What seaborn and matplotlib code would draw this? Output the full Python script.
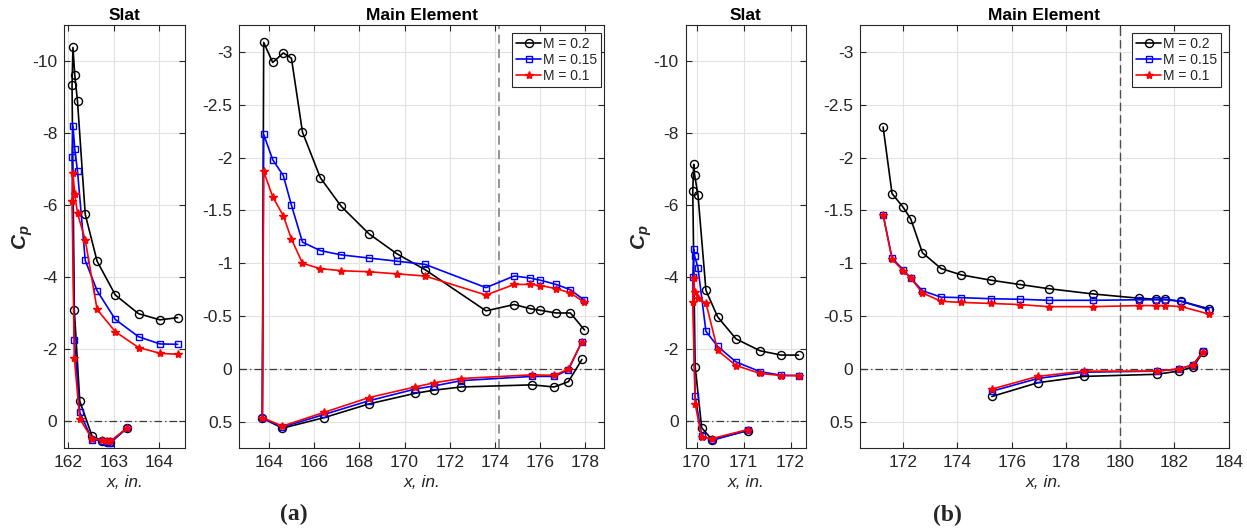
import matplotlib
matplotlib.use("Agg")
import matplotlib.pyplot as plt
from matplotlib.lines import Line2D
import seaborn as sns

# ---------------------------------------------------------------------------
# Surface pressure coefficient data (x in inches, Cp)
# Each slat / main-element-with-LE path runs lower TE -> leading edge -> upper TE
# ---------------------------------------------------------------------------
mach_labels = ["M = 0.2", "M = 0.15", "M = 0.1"]

# (a) slat
slat_a_x = [163.29, 162.92, 162.84, 162.73, 162.52, 162.25, 162.13, 162.08,
            162.10, 162.14, 162.20, 162.37, 162.63, 163.03, 163.54, 164.01, 164.40]
slat_a_cp_m20 = [0.18, 0.58, 0.57, 0.54, 0.41, -0.56, -3.09, -9.34,
                 -10.39, -9.62, -8.89, -5.75, -4.45, -3.51, -2.99, -2.82, -2.88]
slat_a_cp_m15 = [0.19, 0.60, 0.57, 0.54, 0.51, -0.25, -2.27, -7.34,
                 -8.21, -7.57, -6.95, -4.47, -3.63, -2.83, -2.35, -2.15, -2.14]
slat_a_cp_m10 = [0.19, 0.55, 0.54, 0.52, 0.49, -0.07, -1.76, -6.12,
                 -6.90, -6.31, -5.78, -5.04, -3.11, -2.49, -2.05, -1.89, -1.86]

# (a) main element
main_a_x = [177.86, 177.26, 176.63, 175.64, 172.51, 171.32, 170.47, 168.43, 166.44, 164.59, 163.70,
            163.76, 164.16, 164.63, 164.99, 165.48, 166.27, 167.19, 168.42, 169.66, 170.91,
            173.61, 174.86, 175.58, 176.02, 176.72, 177.35, 177.97]
main_a_cp_m20 = [-0.09, 0.12, 0.17, 0.15, 0.17, 0.20, 0.23, 0.33, 0.46, 0.56, 0.465,
                 -3.09, -2.90, -2.99, -2.94, -2.24, -1.81, -1.54, -1.28, -1.09, -0.94,
                 -0.55, -0.61, -0.57, -0.555, -0.53, -0.53, -0.37]
main_a_cp_m15 = [-0.26, 0.01, 0.07, 0.07, 0.11, 0.16, 0.19, 0.30, 0.43, 0.55, 0.465,
                 -2.22, -1.98, -1.83, -1.55, -1.20, -1.12, -1.08, -1.05, -1.02, -0.99,
                 -0.77, -0.88, -0.86, -0.84, -0.80, -0.75, -0.65]
main_a_cp_m10 = [-0.26, 0.00, 0.06, 0.055, 0.09, 0.13, 0.17, 0.27, 0.41, 0.54, 0.46,
                 -1.87, -1.63, -1.45, -1.23, -1.00, -0.95, -0.93, -0.92, -0.90, -0.88,
                 -0.70, -0.80, -0.80, -0.79, -0.76, -0.72, -0.63]

# (b) slat
slat_b_x = [171.09, 170.33, 170.11, 169.97, 169.92,
            169.94, 169.96, 170.03, 170.20, 170.45, 170.84, 171.35, 171.80, 172.17]
slat_b_cp_m20 = [0.26, 0.51, 0.18, -1.52, -6.39,
                 -7.14, -6.84, -6.30, -3.64, -2.90, -2.29, -1.96, -1.84, -1.84]
slat_b_cp_m15 = [0.25, 0.53, 0.40, -0.69, -4.00,
                 -4.78, -4.59, -4.27, -2.50, -2.08, -1.65, -1.38, -1.28, -1.27]
slat_b_cp_m10 = [0.23, 0.48, 0.45, -0.49, -3.32,
                 -3.97, -3.60, -3.42, -3.29, -1.97, -1.55, -1.33, -1.27, -1.27]

# (b) main element, upper and lower surfaces
main_b_upper_x = [171.26, 171.59, 172.00, 172.28, 172.71, 173.40, 174.15, 175.24,
                  176.29, 177.36, 179.00, 180.68, 181.31, 181.67, 182.26, 183.27]
main_b_upper_cp_m20 = [-2.29, -1.66, -1.53, -1.42, -1.10, -0.95, -0.89, -0.84,
                       -0.80, -0.76, -0.71, -0.67, -0.66, -0.66, -0.64, -0.57]
main_b_upper_cp_m15 = [-1.46, -1.05, -0.94, -0.86, -0.74, -0.68, -0.675, -0.665,
                       -0.66, -0.65, -0.65, -0.655, -0.655, -0.655, -0.64, -0.56]
main_b_upper_cp_m10 = [-1.46, -1.04, -0.93, -0.86, -0.72, -0.64, -0.63, -0.62,
                       -0.61, -0.59, -0.59, -0.60, -0.60, -0.60, -0.59, -0.52]
main_b_lower_x = [175.27, 176.96, 178.68, 181.34, 182.16, 182.69, 183.06]
main_b_lower_cp_m20 = [0.26, 0.13, 0.07, 0.05, 0.02, -0.02, -0.16]
main_b_lower_cp_m15 = [0.21, 0.09, 0.03, 0.02, 0.00, -0.04, -0.17]
main_b_lower_cp_m10 = [0.19, 0.07, 0.02, 0.02, 0.00, -0.04, -0.16]

# ---------------------------------------------------------------------------
sns.set_theme(style="white")
plt.rcParams.update({
    "font.family": ["Liberation Sans", "DejaVu Sans"],
    "axes.unicode_minus": False,
    "mathtext.fontset": "custom",
    "mathtext.rm": "Liberation Sans",
    "mathtext.it": "Liberation Sans:italic",
    "mathtext.bf": "Liberation Sans:bold",
    "mathtext.bfit": "Liberation Sans:italic:bold",
})

INK = "#262626"
FS = 12.5
series_style = {
    "M = 0.2": dict(color="black", marker="o", mfc="none", mec="black", ms=5.8, mew=1.0),
    "M = 0.15": dict(color="#0000ff", marker="s", mfc="none", mec="#0000ff", ms=4.6, mew=1.0),
    "M = 0.1": dict(color="#ff0000", marker="*", mfc="#ff0000", mec="#ff0000", ms=6.0, mew=1.0),
}
LW = 1.2

fig = plt.figure(figsize=(12.47, 5.29), dpi=100)
bottom, height = 0.1526, 0.7992
ax_sa = fig.add_axes([0.05156, bottom, 0.0968, height])
ax_ma = fig.add_axes([0.1919, bottom, 0.2925, height])
ax_sb = fig.add_axes([0.5499, bottom, 0.0965, height])
ax_mb = fig.add_axes([0.6899, bottom, 0.2954, height])


def draw(ax, x, cps):
    for label, cp in zip(mach_labels, cps):
        sns.lineplot(x=x, y=cp, ax=ax, sort=False, estimator=None, lw=LW,
                     **series_style[label])


def style_axes(ax, xlim, ylim, xticks, yticks, title):
    ax.axhline(0, ls=(0, (6, 2.5, 1, 2.5)), color="#3a3a3a", lw=0.9, zorder=1)
    ax.set_xlim(*xlim)
    ax.set_ylim(*ylim)
    ax.set_xticks(xticks)
    ax.set_xticklabels([f"{v:g}" for v in xticks])
    ax.set_yticks(yticks)
    ax.set_yticklabels([f"{v:g}" for v in yticks])
    ax.grid(True, color="#e2e2e2", lw=0.8, zorder=0)
    ax.set_axisbelow(True)
    ax.tick_params(direction="in", length=4, width=0.8, top=True, right=True,
                   bottom=True, left=True, labelsize=FS, colors=INK, pad=5)
    for s in ax.spines.values():
        s.set_color(INK)
        s.set_linewidth(0.8)
        s.set_visible(True)
    ax.set_title(title, fontsize=FS, fontweight="bold", pad=4, color="black")
    ax.set_xlabel("x, in.", fontstyle="italic", fontsize=FS, color=INK)
    ax.xaxis.set_label_coords(0.5, -0.063)
    ax.set_ylabel("")


def add_legend(ax, anchor):
    handles = [Line2D([], [], lw=LW, label=lab, **series_style[lab]) for lab in mach_labels]
    leg = ax.legend(handles=handles, loc="upper right", bbox_to_anchor=anchor,
                    borderaxespad=0, fontsize=10, frameon=True, fancybox=False,
                    edgecolor=INK, framealpha=1, borderpad=0.3, labelspacing=0.15,
                    handlelength=1.8, handletextpad=0.1)
    leg.get_frame().set_linewidth(0.8)


slat_yticks = [-10, -8, -6, -4, -2, 0]
main_yticks = [-3, -2.5, -2, -1.5, -1, -0.5, 0, 0.5]

draw(ax_sa, slat_a_x, [slat_a_cp_m20, slat_a_cp_m15, slat_a_cp_m10])
style_axes(ax_sa, (161.91, 164.56), (0.75, -11.0), [162, 163, 164], slat_yticks, "Slat")

draw(ax_ma, main_a_x, [main_a_cp_m20, main_a_cp_m15, main_a_cp_m10])
ax_ma.axvline(174.2, ls=(0, (5, 3)), color="#8c8c8c", lw=1.3, zorder=1)
style_axes(ax_ma, (162.68, 178.84), (0.75, -3.25), list(range(164, 179, 2)),
           main_yticks, "Main Element")
add_legend(ax_ma, (0.9918, 0.9823))

draw(ax_sb, slat_b_x, [slat_b_cp_m20, slat_b_cp_m15, slat_b_cp_m10])
style_axes(ax_sb, (169.77, 172.33), (0.75, -11.0), [170, 171, 172], slat_yticks, "Slat")

draw(ax_mb, main_b_upper_x, [main_b_upper_cp_m20, main_b_upper_cp_m15, main_b_upper_cp_m10])
draw(ax_mb, main_b_lower_x, [main_b_lower_cp_m20, main_b_lower_cp_m15, main_b_lower_cp_m10])
ax_mb.axvline(180, ls=(0, (6, 3)), color="#4d4d4d", lw=1.0, zorder=1)
style_axes(ax_mb, (170.42, 184.0), (0.75, -3.25), list(range(172, 185, 2)),
           main_yticks, "Main Element")
add_legend(ax_mb, (0.979, 0.9823))

for ax, xpos in ((ax_sa, -0.24), (ax_sb, -0.265)):
    ax.set_ylabel(r"$\mathbfit{C_p}$", fontsize=15, color=INK)
    ax.yaxis.set_label_coords(xpos, 0.5)

fig.text(294 / 1247, 1 - 514 / 529, "(a)", ha="center", va="center",
         fontfamily="Liberation Serif", fontweight="bold", fontsize=17)
fig.text(947 / 1247, 1 - 515 / 529, "(b)", ha="center", va="center",
         fontfamily="Liberation Serif", fontweight="bold", fontsize=17)

fig.savefig("out.png", dpi=100)
